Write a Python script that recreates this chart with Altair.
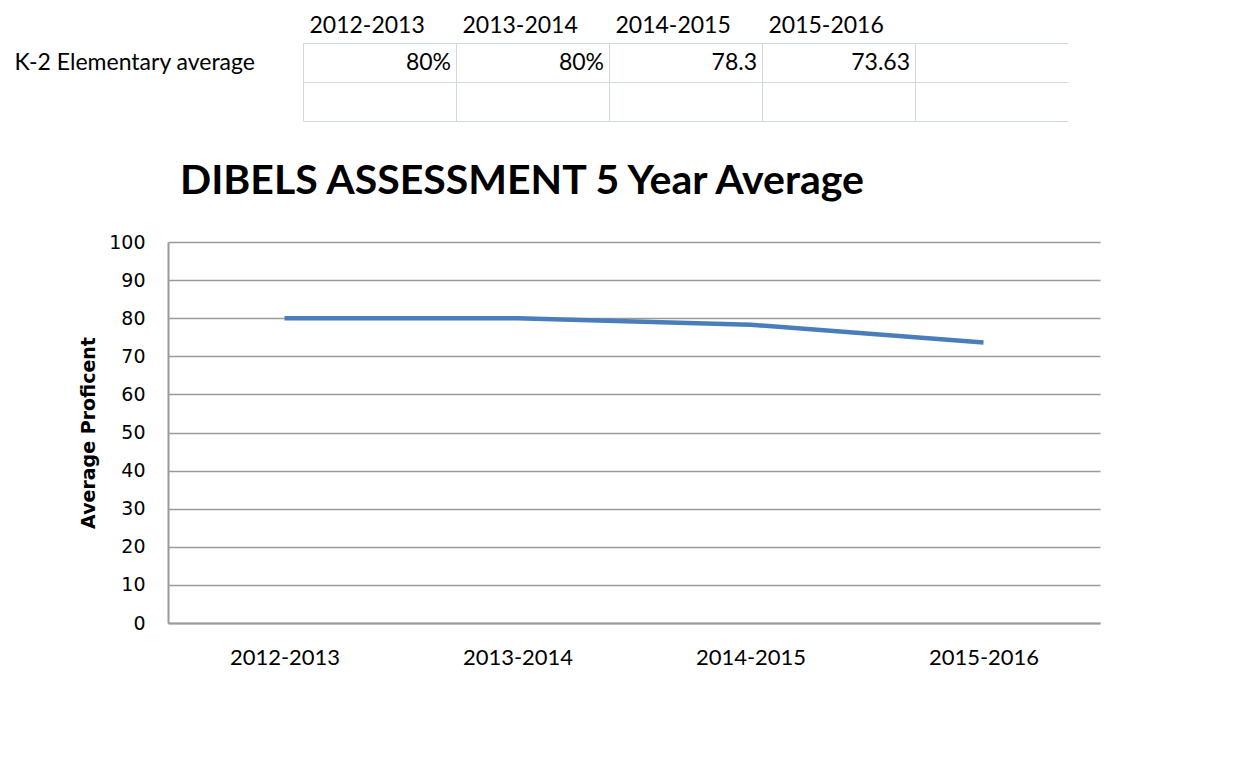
import altair as alt
import pandas as pd

years = ["2012-2013", "2013-2014", "2014-2015", "2015-2016"]
values = [80, 80, 78.3, 73.63]
table_text = ["80%", "80%", "78.3", "73.63"]
row_label = "K-2 Elementary average"
table_rows = [row_label, " "]
table_cols = years + [" "]
y_ticks = [0, 10, 20, 30, 40, 50, 60, 70, 80, 90, 100]
chart_title = "DIBELS ASSESSMENT 5 Year Average"
y_title = "Average Proficent"

df = pd.DataFrame({"year": years, "value": values, "cell": table_text,
                   "row": [row_label] * len(years)})

sheet_grid = "#d0d7e5"
axis_gray = "#9a9a9a"

table = alt.Chart(df).mark_text(
    align="right", baseline="middle", dx=-5, font="Lato", fontSize=23, color="black"
).encode(
    x=alt.X("year:N", sort=years, bandPosition=1,
            scale=alt.Scale(type="band", domain=table_cols, range=[135, 900],
                            paddingInner=0, paddingOuter=0),
            axis=alt.Axis(orient="top", title=None, bandPosition=0, labelAlign="left",
                          labelOffset=-70, labelPadding=6, ticks=False, domain=True,
                          domainColor=sheet_grid, grid=True, gridColor=sheet_grid,
                          labelFont="Lato", labelFontSize=23, labelColor="black",
                          labelAngle=0)),
    y=alt.Y("row:N", scale=alt.Scale(type="band", domain=table_rows,
                                     paddingInner=0, paddingOuter=0),
            axis=alt.Axis(title=None, labelAlign="left", labelPadding=154, labelLimit=400,
                          ticks=False, domain=False, grid=True, bandPosition=1,
                          gridColor=sheet_grid, labelFont="Lato", labelFontSize=23,
                          labelColor="black")),
    text="cell:N",
).properties(width=995, height=78, view=alt.ViewBackground(stroke=None))

line = alt.Chart(df).mark_line(color="#4a7ebb", strokeWidth=4.5).encode(
    x=alt.X("year:N", sort=years, scale=alt.Scale(domain=years),
            axis=alt.Axis(title=None, labelAngle=0, ticks=False, domainColor=axis_gray,
                          domainWidth=2, labelFont="Lato", labelFontSize=22,
                          labelPadding=24, grid=False, labelColor="black")),
    y=alt.Y("value:Q", scale=alt.Scale(domain=[0, 100]),
            axis=alt.Axis(values=y_ticks, title=y_title, titleFont="DejaVu Sans",
                          titleFontWeight="bold", titleFontSize=19, titlePadding=10,
                          titleColor="black", labelFont="DejaVu Sans", labelFontSize=19,
                          labelPadding=23, labelColor="black", ticks=False,
                          gridColor=axis_gray, gridWidth=1.6, domainColor=axis_gray,
                          domainWidth=2)),
).properties(
    width=932, height=381, view=alt.ViewBackground(stroke=None),
    title=alt.TitleParams(chart_title, anchor="start", frame="group", dx=12, offset=30,
                          font="Lato", fontSize=41, fontWeight="bold", color="black"),
)

chart = alt.vconcat(table, line, spacing=121, bounds="flush").properties(
    padding={"left": 6, "top": 6, "right": 10, "bottom": 10},
    background="white",
)

chart.save("out.html", embed_options={"renderer": "svg", "actions": False})
